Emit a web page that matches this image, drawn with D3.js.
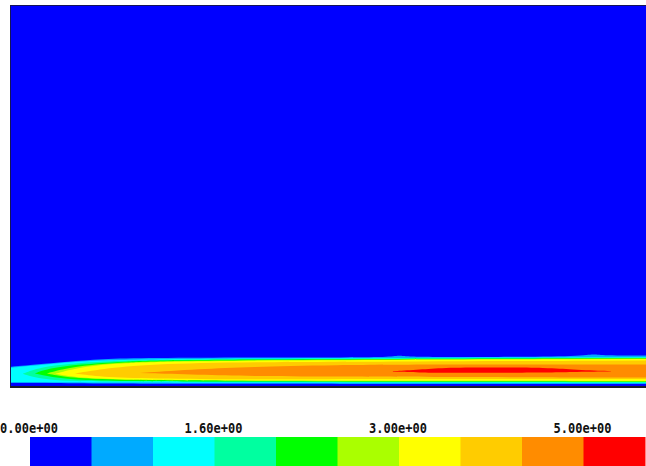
<!DOCTYPE html>
<html>
<head>
<meta charset="utf-8">
<script src="https://d3js.org/d3.v7.min.js"></script>
<style>
  body { margin: 0; background: #fff; }
  .tickLabel { font-family: "DejaVu Sans Mono", monospace; font-size: 12px; font-weight: bold; fill: #111; }
</style>
</head>
<body>
<script>
// colour of every contour level, lowest first
var levelColors = ["#0000ff", "#00aaff", "#00ffff", "#00ffa0", "#00ff00",
                   "#aaff00", "#ffff00", "#ffcc00", "#ff8c00", "#ff0000"]

// colour bar labels and the level boundary each one sits on
var tickLabels = ["0.00e+00", "1.60e+00", "3.00e+00", "5.00e+00"]
var tickLevels = [0, 3, 6, 9]

// region where value >= level k, as [x (m), lower y (mm), upper y (mm)]
var level1 = [[0, 0.79, 4.99], [0.016, 0.79, 5.25], [0.047, 0.76, 5.77], [0.090, 0.72, 6.30],
              [0.142, 0.66, 7.09], [0.220, 0.62, 7.35], [0.377, 0.56, 7.48], [0.535, 0.52, 7.48],
              [0.600, 0.52, 7.60], [0.613, 0.52, 8.10], [0.626, 0.52, 7.55], [0.770, 0.52, 7.61],
              [0.900, 0.52, 7.80], [0.917, 0.52, 8.45], [0.932, 0.52, 7.95], [1.0, 0.52, 8.01]]
var level2 = [[0, 1.05, 4.80], [0.031, 1.05, 5.25], [0.079, 0.98, 6.04], [0.142, 0.92, 6.82],
              [0.299, 0.87, 7.22], [0.613, 0.83, 7.35], [1.0, 0.79, 7.61]]
var level3 = [[0.020, 3.2, 3.2], [0.047, 1.84, 4.99], [0.094, 1.31, 5.77], [0.142, 1.18, 6.56],
              [0.299, 1.05, 7.09], [1.0, 0.92, 7.48]]
var level4 = [[0.039, 3.3, 3.3], [0.063, 2.36, 4.72], [0.110, 1.57, 5.64], [0.173, 1.31, 6.43],
              [0.299, 1.18, 6.96], [1.0, 1.05, 7.35]]
var level5 = [[0.058, 3.3, 3.3], [0.094, 2.10, 4.99], [0.173, 1.57, 6.30], [0.299, 1.31, 6.82],
              [1.0, 1.18, 7.22]]
var level6 = [[0.071, 3.2, 3.2], [0.110, 2.10, 4.99], [0.173, 1.71, 6.04], [0.299, 1.44, 6.69],
              [1.0, 1.31, 7.09]]
var level7 = [[0.102, 3.3, 3.3], [0.142, 2.36, 4.46], [0.220, 1.97, 5.77], [0.377, 1.71, 6.30],
              [0.613, 1.84, 6.43], [1.0, 1.84, 6.69]]
var level8 = [[0.204, 3.4, 3.4], [0.299, 2.89, 4.46], [0.377, 2.62, 4.99], [0.503, 2.49, 5.51],
              [0.692, 2.36, 5.64], [1.0, 2.23, 5.64]]
var level9 = [[0.602, 3.75, 3.85], [0.645, 3.5, 4.3], [0.680, 3.45, 4.8], [0.750, 3.45, 4.85],
              [0.849, 3.5, 4.8], [0.880, 3.65, 4.35], [0.945, 3.8, 3.9]]

var levels = [level1, level2, level3, level4, level5, level6, level7, level8, level9]

var width = 646,
    height = 466,
    plot = {left: 10, top: 5, right: 646, bottom: 386}

var svg = d3.select("body").append("svg")
            .attr("width", width)
            .attr("height", height)

// x along the wall, y away from the wall
var scaleX = d3.scaleLinear()
               .domain([0, 1])
               .range([plot.left, plot.right])
var scaleY = d3.scaleLinear()
               .domain([0, 100])
               .range([plot.bottom, plot.top])

// background is the lowest level
svg.append("rect")
   .attr("x", plot.left)
   .attr("y", plot.top)
   .attr("width", plot.right - plot.left)
   .attr("height", plot.bottom - plot.top)
   .attr("fill", levelColors[0])

var area = d3.area()
             .x(function(d) { return scaleX(d[0]) })
             .y0(function(d) { return scaleY(d[1]) })
             .y1(function(d) { return scaleY(d[2]) })
             .curve(d3.curveBasis)

// nested contour bands, each one drawn on top of the one below
svg.append("g")
   .attr("class", "contours")
   .selectAll("path")
   .data(levels)
   .enter().append("path")
   .attr("d", area)
   .attr("fill", function(d, i) { return levelColors[i + 1] })

// frame
svg.append("line")
   .attr("x1", plot.left).attr("x2", plot.right)
   .attr("y1", plot.top + 0.5).attr("y2", plot.top + 0.5)
   .attr("stroke", "#14145a")
svg.append("line")
   .attr("x1", plot.left + 0.5).attr("x2", plot.left + 0.5)
   .attr("y1", plot.top).attr("y2", plot.bottom + 2)
   .attr("stroke", "#14145a")
svg.append("line")
   .attr("x1", plot.left).attr("x2", plot.right)
   .attr("y1", plot.bottom + 1).attr("y2", plot.bottom + 1)
   .attr("stroke", "#1a1a2a")
   .attr("stroke-width", 2)

// colour bar
var barScale = d3.scaleBand()
                 .domain(d3.range(levelColors.length))
                 .range([30, 645])
var edgeScale = d3.scaleLinear()
                  .domain([0, levelColors.length])
                  .range([30, 645])

svg.append("g")
   .attr("class", "colorbar")
   .selectAll("rect")
   .data(levelColors)
   .enter().append("rect")
   .attr("x", function(d, i) { return barScale(i) })
   .attr("y", 437)
   .attr("width", barScale.bandwidth() + 0.5)
   .attr("height", 29)
   .attr("fill", function(d) { return d })

svg.append("g")
   .selectAll("text")
   .data(tickLabels)
   .enter().append("text")
   .attr("class", "tickLabel")
   .attr("text-anchor", "middle")
   .attr("transform", function(d, i) {
     return "translate(" + (edgeScale(tickLevels[i]) - 1) + ",433) scale(1,1.15)"
   })
   .text(function(d) { return d })
</script>
</body>
</html>
